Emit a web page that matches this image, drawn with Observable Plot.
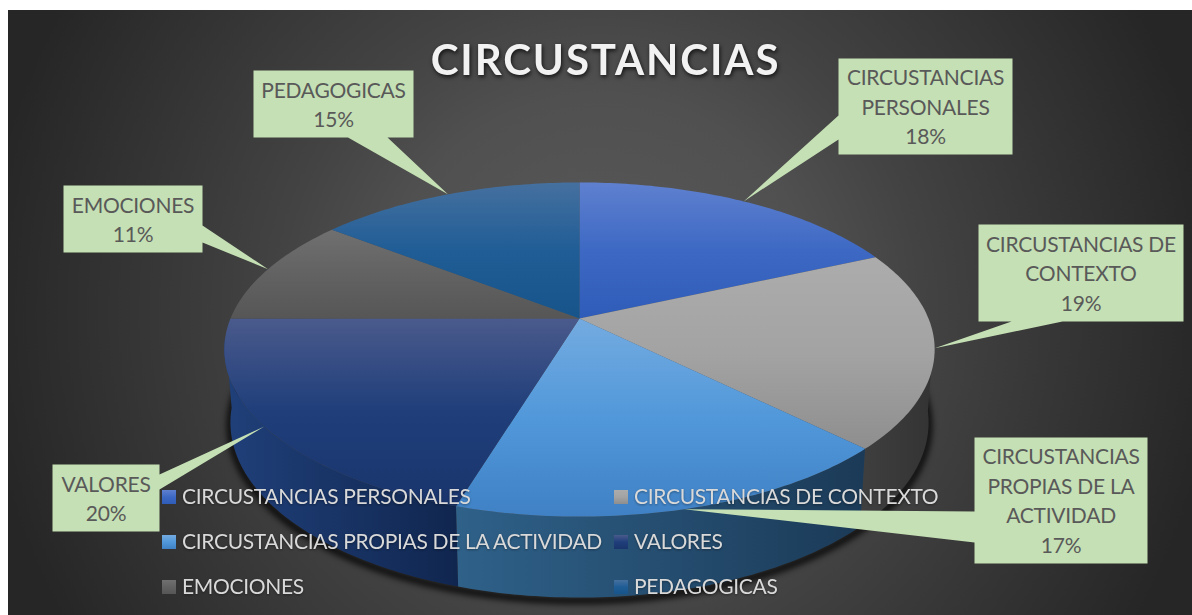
<!DOCTYPE html>
<html>
<head>
<meta charset="utf-8">
<script src="https://cdn.jsdelivr.net/npm/d3@7"></script>
<script src="https://cdn.jsdelivr.net/npm/@observablehq/plot@0.6"></script>
<style>
html,body{margin:0;padding:0;background:#fff}
svg{display:block}
.soft{filter:blur(3px)}
.title text{letter-spacing:1.9px;filter:drop-shadow(1px 2px 2px rgba(0,0,0,.75))}
.tight text{letter-spacing:-.25px}
.legendText text{letter-spacing:-.33px;filter:drop-shadow(0 1px 1px rgba(0,0,0,.35))}
</style>
</head>
<body>
<script>
const slices = ["CIRCUSTANCIAS PERSONALES","CIRCUSTANCIAS DE CONTEXTO","CIRCUSTANCIAS PROPIAS DE LA ACTIVIDAD","VALORES","EMOCIONES","PEDAGOGICAS"];
const values = [18.3,19.1,17.3,20.3,10.5,14.5];
const calloutText = ["CIRCUSTANCIAS\nPERSONALES","CIRCUSTANCIAS DE\nCONTEXTO","CIRCUSTANCIAS\nPROPIAS DE LA\nACTIVIDAD","VALORES","EMOCIONES","PEDAGOGICAS"];
const topColors = [["#5f80cf","#3d69c4","#2f5cb8"],["#acacac","#a3a3a3","#8e8e8e"],["#74abe0","#5198da","#3f81c4"],["#4a5a8c","#1f3e7a","#1a356d"],["#707070","#626262","#565656"],["#45709f","#205d96","#16548a"]];
const sideColors = [["#2c50a0","#1f3c7c"],["#3f3f3f","#333333"],["#2f6189","#1b3a57"],["#20407a","#10264f"],["#4a4a4a","#3a3a3a"],["#1c4f7e","#123a5e"]];
const titleText = "CIRCUSTANCIAS";

// pie geometry in the chart's own coordinate system
const cx = 579, k = 0.1857;
const topRim = {ay:318, a:349, b:161.3}, bottomRim = {ay:389.5, a:343, b:169};
const project = (deg, f) => {
  const t = deg*Math.PI/180, u = Math.sin(t), v = Math.cos(t), w = 1+k*v;
  return {x: cx+f.a*u/w, y: f.ay-f.b*v/w};
};
const total = d3.sum(values);
const cum = Array.from(d3.cumsum(values));
const ang = i => (i<0?0:cum[i])/total*360;

const steps = (a,b) => { const o=[]; const n=Math.max(2,Math.ceil(Math.abs(b-a))+1); for(let i=0;i<n;i++) o.push(a+(b-a)*i/(n-1)); return o; };

const faces = slices.map((_,i)=>[{x:cx,y:topRim.ay},...steps(ang(i-1),ang(i)).map(d=>project(d,topRim))]);
const visible = [97,264];
const sides = slices.map((_,i)=>{
  const a=Math.max(ang(i-1),visible[0]), b=Math.min(ang(i),visible[1]);
  if(a>=b) return null;
  const r=steps(a,b);
  return [...r.map(d=>project(d,topRim)),...r.slice().reverse().map(d=>project(d,bottomRim))];
});
const shadowPath = steps(80,285).map(d=>{const p=project(d,bottomRim);return {x:p.x,y:p.y+3};});

// callouts: box edges and the two base points of the pointer
const boxes = [
  {x0:838,y0:58,x1:1012,y1:154,base:[[838,139],[838,115]],side:3},
  {x0:978,y0:224,x1:1183,y1:321,base:[[1062,321],[1011,321]],side:2},
  {x0:974,y0:437,x1:1147,y1:563,base:[[974,542],[974,511]],side:3},
  {x0:52,y0:464,x1:159,y1:531,base:[[159,474],[159,489]],side:1},
  {x0:63,y0:185,x1:202,y1:252,base:[[202,225],[202,242]],side:1},
  {x0:253,y0:70,x1:413,y1:137,base:[[387,137],[347.5,137]],side:2}
];
const callouts = boxes.map((b,i)=>{
  const tip = project((ang(i-1)+ang(i))/2, topRim);
  const corners=[[b.x0,b.y0],[b.x1,b.y0],[b.x1,b.y1],[b.x0,b.y1]];
  const pts = b.side===1 ? [corners[0],corners[1],b.base[0],[tip.x,tip.y],b.base[1],corners[2],corners[3]]
    : b.side===2 ? [corners[0],corners[1],corners[2],b.base[0],[tip.x,tip.y],b.base[1],corners[3]]
    : [corners[0],corners[1],corners[2],corners[3],b.base[0],[tip.x,tip.y],b.base[1]];
  return pts.map(([x,y])=>({x,y,i}));
}).flat();
const calloutLabels = boxes.map((b,i)=>({x:(b.x0+b.x1)/2,y:(b.y0+b.y1)/2-1.2,text:calloutText[i]+"\n"+Math.round(values[i])+"%"}));

// legend placement
const legendCols = [162,614], legendRows = [497,542,587], swatch = 14, legendGap = 19.5;
const legend = slices.map((s,i)=>({s,i,x:legendCols[i%2],y:legendRows[Math.floor(i/2)]}));

const font = "Lato, 'Open Sans', sans-serif";
const plot = Plot.plot({
  width:1192, height:615, margin:0,
  x:{domain:[0,1192],range:[0,1192],axis:null},
  y:{domain:[0,615],range:[0,615],axis:null},
  style:{background:"#fff",fontFamily:font},
  marks:[
    Plot.rect([{a:8,b:1192,c:10,d:615}],{x1:"a",x2:"b",y1:"c",y2:"d",fill:"url(#bg)"}),
    Plot.line(shadowPath,{x:"x",y:"y",stroke:"#000",strokeWidth:7,strokeOpacity:.85,className:"soft"}),
    ...sides.map((p,i)=>p?Plot.line(p,{x:"x",y:"y",curve:"linear-closed",stroke:"none",fill:`url(#side${i})`}):null).filter(Boolean),
    ...faces.map((p,i)=>Plot.line(p,{x:"x",y:"y",curve:"linear-closed",stroke:"none",fill:`url(#face${i})`})),
    Plot.line(callouts,{x:"x",y:"y",z:"i",curve:"linear-closed",fill:"#c5e0b4",stroke:"none"}),
    Plot.text(calloutLabels,{x:"x",y:"y",text:"text",fill:"#595959",fontSize:21,lineHeight:1.405,textAnchor:"middle",lineAnchor:"middle",className:"tight"}),
    Plot.rect(legend,{x1:"x",x2:d=>d.x+swatch,y1:d=>d.y-swatch/2,y2:d=>d.y+swatch/2,fill:d=>`url(#face${d.i})`}),
    Plot.text(legend,{x:d=>d.x+legendGap,y:"y",text:"s",fill:"#d9d9d9",fontSize:21,textAnchor:"start",lineAnchor:"middle",className:"legendText"}),
    Plot.text([titleText],{x:()=>605,y:()=>61,text:d=>d,fill:"#f2f2f2",fontSize:42,fontWeight:"bold",className:"title",textAnchor:"middle",lineAnchor:"middle"})
  ]
});
const grad = (id,cols,dir) => `<linearGradient id="${id}" x1="0" y1="0" x2="${dir?1:0}" y2="${dir?0:1}">`+cols.map((c,i)=>`<stop offset="${i/(cols.length-1)}" stop-color="${c}"/>`).join("")+`</linearGradient>`;
const defs = `<radialGradient id="bg" gradientUnits="userSpaceOnUse" cx="600" cy="312" r="620">
<stop offset="0" stop-color="#5a5a5a"/><stop offset=".35" stop-color="#505050"/><stop offset=".52" stop-color="#434343"/><stop offset="1" stop-color="#262626"/></radialGradient>`
 + topColors.map((c,i)=>grad("face"+i,c,false)).join("")
 + sideColors.map((c,i)=>grad("side"+i,c,true)).join("");
d3.select(plot).insert("defs",":first-child").html(defs);
document.body.appendChild(plot);
</script>
</body>
</html>
